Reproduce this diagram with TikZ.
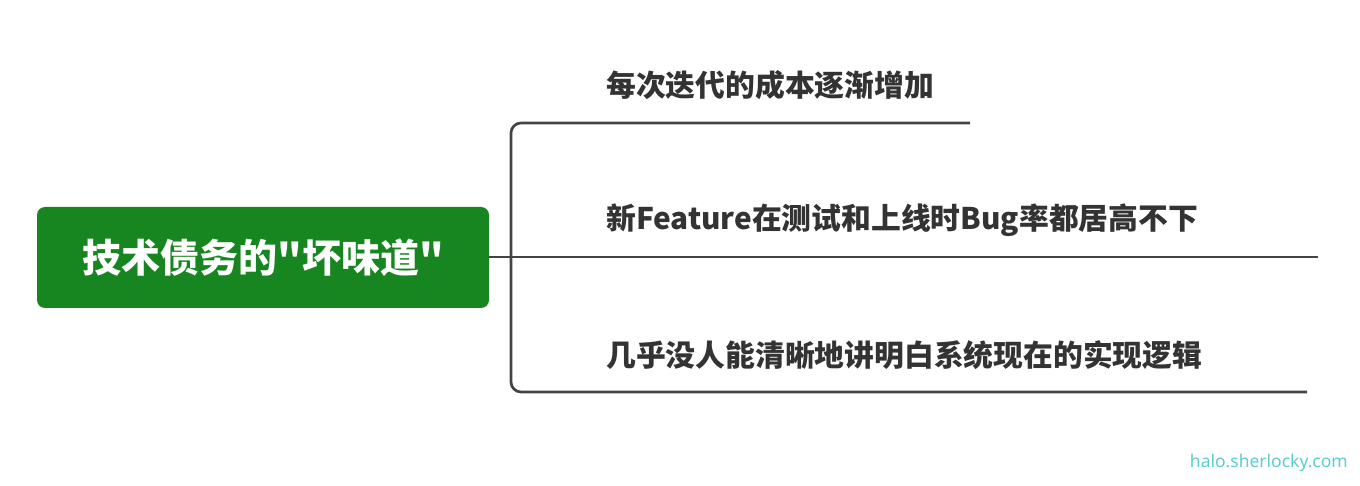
\documentclass[tikz,border=0pt]{standalone}
\usepackage{fontspec}
\setmainfont{Noto Sans}
\newfontfamily\cjk{Noto Sans CJK SC}
\definecolor{rootgreen}{RGB}{24,134,32}
\definecolor{linegray}{RGB}{68,68,68}
\definecolor{textgray}{RGB}{51,51,51}
\definecolor{mark}{RGB}{94,205,205}
\begin{document}
\begin{tikzpicture}[x=1pt,y=-1pt,
  rootbox/.style={fill=rootgreen, rounded corners=8pt, inner sep=0pt, minimum width=452pt, minimum height=101pt, text=white, font=\cjk\bfseries\fontsize{39}{45}\selectfont},
  leaf/.style={anchor=west, inner sep=0pt, text=textgray, font=\cjk\bfseries\fontsize{29.8}{34}\selectfont},
  branch/.style={draw=linegray, line width=2.7pt, rounded corners=10pt}]
\useasboundingbox (0,0) rectangle (1360,486);
\node[rootbox] (root) at (263,257.5) {技术债务的"坏味道"};
\coordinate (j) at (511,257);
\coordinate (e1) at (970,123);
\coordinate (e2) at (1318,257);
\coordinate (e3) at (1307,392);
\node[leaf] (t1) at (606,85) {每次迭代的成本逐渐增加};
\node[leaf] (t2) at (606,220) {新Feature在测试和上线时Bug率都居高不下};
\node[leaf] (t3) at (606,355) {几乎没人能清晰地讲明白系统现在的实现逻辑};
\draw[branch] (root.east |- j) -- (e2);
\draw[branch] (e1) -- (j |- e1) -- (j);
\draw[branch] (e3) -- (j |- e3) -- (j);
\node[anchor=east, inner sep=0pt, text=mark, font=\fontsize{17.5}{21}\selectfont] (wm) at (1348,463) {halo.sherlocky.com};
\end{tikzpicture}
\end{document}
